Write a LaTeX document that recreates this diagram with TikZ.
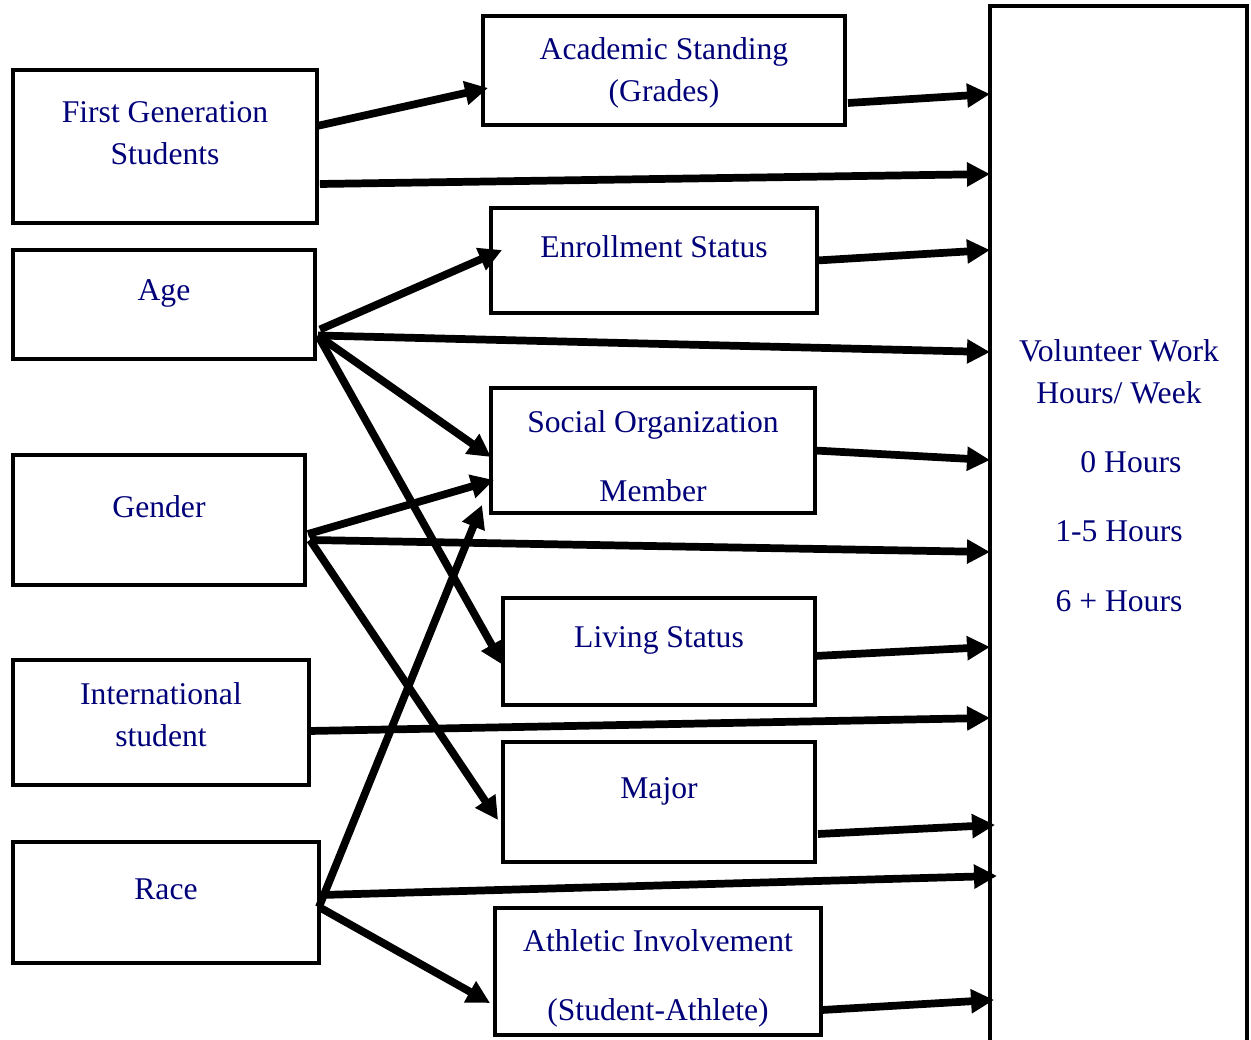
\documentclass[tikz,border=0pt]{standalone}
\usepackage{fontspec}
\setmainfont{Liberation Serif}
\usepackage{xcolor}
\usetikzlibrary{arrows.meta}
\definecolor{navytext}{RGB}{0,0,120}
\tikzset{
  box/.style={draw, line width=2.3pt, inner sep=0pt, outer sep=0pt},
  txt/.style={text=navytext, font=\fontsize{18}{24}\selectfont, align=center},
  arr/.style={line width=4.4pt, -{Triangle[length=0.46cm,width=0.46cm]}}
}
\begin{document}
\begin{tikzpicture}[x=0.02cm,y=-0.02cm]
\clip (0,0) rectangle (1251,1040);
% left column
\node [box, minimum width=6.08cm, minimum height=3.06cm] (fgs) at (165,146.5) {};
\node [box, minimum width=6.04cm, minimum height=2.18cm] (age) at (164,304.5) {};
\node [box, minimum width=5.84cm, minimum height=2.6cm] (gender) at (159,520) {};
\node [box, minimum width=5.92cm, minimum height=2.5cm] (intl) at (161,722.5) {};
\node [box, minimum width=6.12cm, minimum height=2.42cm] (race) at (166,902.5) {};
\node [txt] (fgsText) at (165,133.5) {First Generation\\Students};
\node [txt] (ageText) at (164,293) {Age};
\node [txt] (genderText) at (159,507) {Gender};
\node [txt] (intlText) at (161,715) {International\\student};
\node [txt] (raceText) at (166,889) {Race};
% middle column
\node [box, minimum width=7.24cm, minimum height=2.18cm] (acad) at (664,70.5) {};
\node [box, minimum width=6.52cm, minimum height=2.1cm] (enroll) at (654,260.5) {};
\node [box, minimum width=6.48cm, minimum height=2.5cm] (social) at (653,450.5) {};
\node [box, minimum width=6.24cm, minimum height=2.14cm] (living) at (659,651.5) {};
\node [box, minimum width=6.24cm, minimum height=2.4cm] (major) at (659,802) {};
\node [box, minimum width=6.52cm, minimum height=2.54cm] (athl) at (658,971.5) {};
\node [txt] (acadText) at (664,72.5) {Academic Standing\\(Grades)};
\node [txt] (enrollText) at (654,247) {Enrollment Status};
\node [txt] (socialText) at (653,456) {Social Organization\\[0.54cm]Member};
\node [txt] (livingText) at (659,640) {Living Status};
\node [txt] (majorText) at (659,791) {Major};
\node [txt] (athlText) at (658,978) {Athletic Involvement\\[0.54cm](Student-Athlete)};
% outcome
\node [box, minimum width=5.14cm, minimum height=21.2cm] (vol) at (1118.5,536) {};
\node [txt] (volText) at (1119,475.5) {Volunteer Work\\Hours/ Week\\[0.54cm]\hspace*{0.48cm}0 Hours\\[0.54cm]1-5 Hours\\[0.54cm]6 + Hours};
% arrows
\draw [arr] ([yshift=0.41cm]fgs.east) -- ([xshift=0.1cm,yshift=-0.35cm]acad.west);
\draw [arr] ([xshift=0.06cm,yshift=-0.75cm]fgs.east) -- ([yshift=-3.36cm]vol.north west);
\draw [arr] ([xshift=0.06cm,yshift=-0.65cm]acad.east) -- ([yshift=-1.76cm]vol.north west);
\draw [arr] (enroll.east) -- ([yshift=-4.88cm]vol.north west);
\draw [arr] ([xshift=0.1cm,yshift=-0.5cm]age.east) -- ([xshift=0.22cm,yshift=0.21cm]enroll.west);
\draw [arr] ([xshift=0.06cm,yshift=-0.62cm]age.east) -- ([yshift=-6.92cm]vol.north west);
\draw [arr] ([xshift=0.06cm,yshift=-0.62cm]age.east) -- ([yshift=-0.13cm]social.west);
\draw [arr] ([xshift=0.06cm,yshift=-0.62cm]age.east) -- ([yshift=-0.27cm]living.west);
\draw [arr] (social.east) -- ([yshift=-9.08cm]vol.north west);
\draw [arr] ([xshift=0.06cm,yshift=-0.28cm]gender.east) -- ([xshift=0.06cm,yshift=-0.59cm]social.west);
\draw [arr] ([xshift=0.1cm,yshift=-0.4cm]gender.east) -- ([yshift=-10.92cm]vol.north west);
\draw [arr] ([xshift=0.1cm,yshift=-0.4cm]gender.east) -- ([xshift=-0.1cm,yshift=-0.36cm]major.west);
\draw [arr] ([yshift=-0.09cm]living.east) -- ([yshift=-12.82cm]vol.north west);
\draw [arr] ([yshift=-0.17cm]intl.east) -- ([yshift=-14.24cm]vol.north west);
\draw [arr] ([yshift=-0.09cm]race.east) -- ([xshift=-0.18cm,yshift=-1.09cm]social.west);
\draw [arr] ([xshift=0.04cm,yshift=0.15cm]race.east) -- ([xshift=0.14cm,yshift=-17.4cm]vol.north west);
\draw [arr] ([yshift=-0.09cm]race.east) -- ([xshift=-0.1cm,yshift=-0.63cm]athl.west);
\draw [arr] ([xshift=0.06cm,yshift=-0.64cm]major.east) -- ([xshift=0.1cm,yshift=-16.38cm]vol.north west);
\draw [arr] ([xshift=0.02cm,yshift=-0.77cm]athl.east) -- ([xshift=0.08cm,yshift=-19.88cm]vol.north west);
\end{tikzpicture}
\end{document}
